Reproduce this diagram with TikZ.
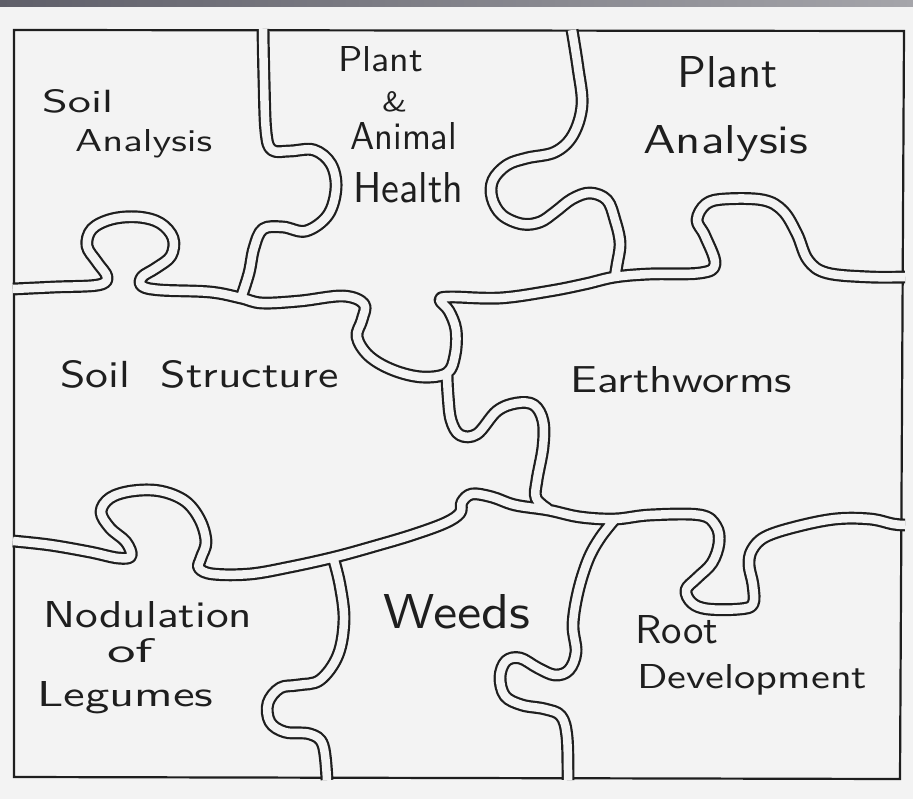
\documentclass[tikz,border=0pt]{standalone}
\usepackage{fontspec}
\usepackage{graphicx}
\definecolor{bg}{HTML}{F3F3F3}
\definecolor{ink}{HTML}{1E1E1E}
\definecolor{bandL}{RGB}{95,95,105}
\definecolor{bandR}{RGB}{165,165,170}
\tikzset{
  seam/.style={draw=ink, line width=2.2pt, double=bg, double distance=8.5pt, line cap=butt, line join=round},
  frameline/.style={draw=ink, line width=2.2pt},
  lbl/.style={anchor=base west, inner sep=0pt, text=ink, font=\sffamily},
}
\newcommand{\hw}[3]{\resizebox{#1pt}{#2pt}{#3}}
\begin{document}
\begin{tikzpicture}[x=1pt,y=-1pt]
\useasboundingbox (0,0) rectangle (913,799);
\fill[bg] (0,0) rectangle (913,799);
\shade[left color=bandL, right color=bandR] (0,0) rectangle (913,7);
% outer frame
\draw[frameline] (14,30) -- (904,31) -- (900,779) -- (14,777) -- cycle;
% all seams in one path so that junctions merge cleanly
\draw[seam]
  % A: Soil Analysis | Plant & Animal Health
  plot[smooth,tension=0.6] coordinates {(263,29) (264,80) (266,132) (272,150) (290,151) (314,150) (331,164) (336,188) (328,215) (306,231) (283,227) (263,229) (254,248) (249,273) (241,298)}
  % B: top row | middle row
  plot[smooth,tension=0.6] coordinates {(13,289) (55,287) (98,285) (107,277) (97,262) (87,246) (92,229) (112,219) (138,217) (160,223) (173,238) (171,256) (156,268) (142,277) (142,286) (160,290) (210,292) (241,298) (262,303) (300,301) (343,296) (364,304) (362,320) (357,337) (369,356) (393,370) (422,377) (447,373) (455,355) (456,330) (449,311) (440,300) (450,297) (500,298) (550,291) (585,284) (615,277) (650,274) (700,273) (715,264) (705,236) (697,220) (706,204) (725,199) (763,200) (783,211) (797,234) (808,260) (827,273) (870,277) (905,277)}
  % G: Plant & Animal Health | Plant Analysis
  plot[smooth,tension=0.6] coordinates {(572,30) (578,68) (582,105) (573,135) (555,152) (527,158) (507,165) (493,180) (492,198) (502,215) (522,224) (540,222) (555,212) (572,199) (590,193) (607,200) (615,220) (620,243) (617,265) (615,277)}
  % C: Soil Structure | Earthworms
  plot[smooth,tension=0.6] coordinates {(447,375) (448,395) (451,420) (460,435) (477,434) (497,411) (517,403) (534,405) (543,421) (543,447) (537,480) (536,498) (548,509)}
  % D: middle row | bottom row
  plot[smooth,tension=0.6] coordinates {(13,541) (50,545) (90,552) (118,558) (131,556) (126,542) (110,528) (101,512) (110,498) (132,491) (160,491) (185,501) (200,520) (206,542) (201,558) (199,568) (213,574) (250,574) (290,567) (335,557) (375,546) (412,535) (445,523) (460,513) (462,502) (472,494) (492,497) (515,505) (548,510) (580,517) (615,519) (650,515) (700,515) (716,526) (719,543) (712,563) (697,578) (686,590) (692,603) (708,609) (740,609) (753,604) (753,585) (749,565) (752,550) (765,537) (795,527) (835,519) (870,519) (893,524) (905,525)}
  % N: Nodulation | Weeds
  plot[smooth,tension=0.6] coordinates {(333,557) (340,585) (344,620) (338,655) (320,680) (298,685) (280,688) (268,703) (270,722) (285,732) (310,734) (323,745) (327,780)}
  % F: Weeds | Root Development
  plot[smooth,tension=0.6] coordinates {(615,519) (600,538) (588,560) (578,592) (573,625) (576,652) (569,670) (555,675) (538,668) (520,658) (506,661) (500,677) (505,696) (522,705) (545,709) (561,716) (567,737) (568,780)};
% labels
\node[lbl] (soilA1) at (42,113) {\hw{71}{23}{Soil}};
\node[lbl] (soilA2) at (75,152) {\hw{137}{22}{Analysis}};
\node[lbl] (pah1) at (338,72) {\hw{85}{25}{Plant}};
\node[lbl] (pah2) at (382,112) {\hw{25}{20}{\&}};
\node[lbl] (pah3) at (350,150) {\hw{107}{27}{Animal}};
\node[lbl] (pah4) at (353,203) {\hw{110}{30}{Health}};
\node[lbl] (pa1) at (677,88) {\hw{101}{31}{Plant}};
\node[lbl] (pa2) at (643,154) {\hw{165}{28}{Analysis}};
\node[lbl] (ss) at (60,388) {\hw{278}{27}{Soil\ \ Structure}};
\node[lbl] (ew) at (570,392) {\hw{222}{26}{Earthworms}};
\node[lbl] (nl1) at (43,627) {\hw{209}{26}{Nodulation}};
\node[lbl] (nl2) at (107,662) {\hw{46}{24}{of}};
\node[lbl] (nl3) at (37,706) {\hw{176}{25}{Legumes}};
\node[lbl] (wd) at (383,628) {\hw{147}{34}{Weeds}};
\node[lbl] (rd1) at (635,643) {\hw{83}{28}{Root}};
\node[lbl] (rd2) at (637,688) {\hw{230}{24}{Development}};
\end{tikzpicture}
\end{document}
